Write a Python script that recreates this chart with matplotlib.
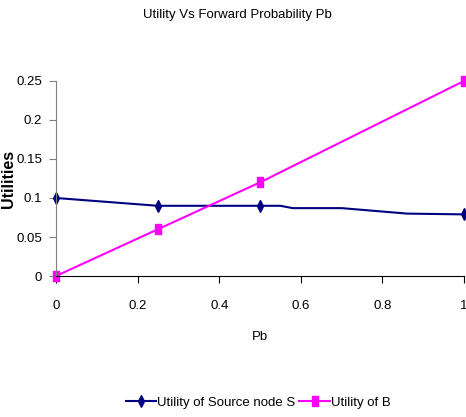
import matplotlib.pyplot as plt
from matplotlib.ticker import FuncFormatter

# data
pb_s = [0, 0.25, 0.5, 0.55, 0.58, 0.70, 0.86, 1.0]
util_s = [0.1, 0.09, 0.09, 0.09, 0.087, 0.087, 0.08, 0.079]
marked_s = [0, 1, 2, 7]  # points that carry a marker

pb_b = [0, 0.25, 0.5, 1.0]
util_b = [0, 0.06, 0.12, 0.25]

x_ticks = [0, 0.2, 0.4, 0.6, 0.8, 1.0]
y_ticks = [0, 0.05, 0.1, 0.15, 0.2, 0.25]

plt.rcParams['font.family'] = ['Liberation Sans', 'DejaVu Sans']

fig = plt.figure(figsize=(4.66, 4.17), dpi=100)
ax = fig.add_axes([0.120, 0.338, 0.876, 0.468])

# narrow Excel-like marker shapes
diamond = [(0, -0.5), (0.25, 0), (0, 0.5), (-0.25, 0), (0, -0.5)]
rect = [(-0.3, -0.5), (0.3, -0.5), (0.3, 0.5), (-0.3, 0.5), (-0.3, -0.5)]
ax.plot(pb_s, util_s, color='#000080', lw=1.5, marker=diamond, ms=8.5,
        markevery=marked_s, label='Utility of Source node S', clip_on=False)
ax.plot(pb_b, util_b, color='#FF00FF', lw=1.5, marker=rect, ms=7.5,
        label='Utility of B', clip_on=False)

ax.set_xlim(0, 1)
ax.set_ylim(0, 0.25)
ax.set_xticks(x_ticks)
ax.set_yticks(y_ticks)
fmt = FuncFormatter(lambda v, p: ('%g' % round(v, 3)))
ax.xaxis.set_major_formatter(fmt)
ax.yaxis.set_major_formatter(fmt)

for s in ['top', 'right']:
    ax.spines[s].set_visible(False)
ax.spines['left'].set_color('#808080')
ax.spines['bottom'].set_color('black')
ax.tick_params(axis='y', direction='out', length=5, color='#808080',
               labelsize=9.5, pad=5)
ax.tick_params(axis='x', direction='out', length=5, color='black',
               labelsize=9.5, pad=12)

ax.set_xlabel('Pb', fontsize=9.5, labelpad=14)
ax.set_ylabel('Utilities', fontsize=11.5, fontweight='bold')
ax.yaxis.set_label_coords(-0.098, 0.5)
fig.text(0.51, 0.963, 'Utility Vs Forward Probability Pb', ha='center',
         va='center', fontsize=9.5)

fig.legend(loc='center', bbox_to_anchor=(0.554, 0.034), ncol=2,
           frameon=False, fontsize=9.5, handlelength=2.3, handletextpad=0.1,
           columnspacing=0.3)

fig.savefig('out.png', dpi=100)
